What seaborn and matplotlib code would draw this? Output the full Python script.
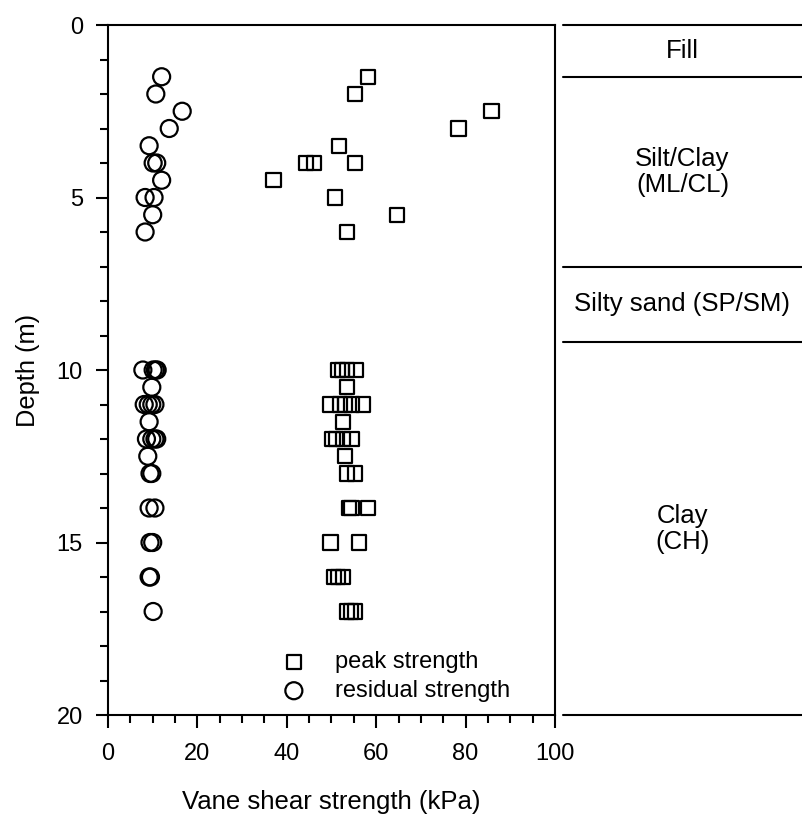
import matplotlib
matplotlib.use("Agg")
import matplotlib.pyplot as plt
import seaborn as sns
import pandas as pd
import numpy as np
from matplotlib.ticker import MultipleLocator

sns.set_style("ticks")
plt.rcParams['font.family'] = ['Liberation Sans', 'DejaVu Sans']
plt.rcParams.update({"text.color": "black", "axes.labelcolor": "black",
                     "xtick.color": "black", "ytick.color": "black",
                     "axes.edgecolor": "black"})

# Peak strength (kPa) vs depth (m)
peak_depth = [1.5, 2.0, 2.5, 3.0, 3.5, 4.0, 4.0, 4.0, 4.5, 5.0, 5.5, 6.0,
              10.0, 10.0, 10.0, 10.0, 10.5, 11.0, 11.0, 11.0, 11.0, 11.0, 11.5,
              12.0, 12.0, 12.0, 12.0, 12.5, 13.0, 13.0, 14.0, 14.0, 14.0,
              15.0, 15.0, 16.0, 16.0, 16.0, 17.0, 17.0, 17.0]
peak_val = [58.2, 55.3, 85.8, 78.4, 51.7, 44.3, 46.1, 55.3, 37.0, 50.8, 64.6, 53.5,
            51.5, 52.3, 53.4, 55.5, 53.4, 49.8, 51.9, 53.0, 54.5, 57.1, 52.5,
            50.2, 51.0, 52.5, 54.5, 53.0, 53.4, 55.3, 53.9, 54.5, 58.1,
            49.8, 56.2, 50.6, 51.5, 52.6, 53.4, 54.4, 55.3]

# Residual strength (kPa) vs depth (m)
res_depth = [1.5, 2.0, 2.5, 3.0, 3.5, 4.0, 4.0, 4.5, 5.0, 5.0, 5.5, 6.0,
             10.0, 10.0, 10.0, 10.0, 10.5, 11.0, 11.0, 11.0, 11.0, 11.5,
             12.0, 12.0, 12.0, 12.0, 12.5, 13.0, 13.0, 14.0, 14.0,
             15.0, 15.0, 16.0, 16.0, 17.0]
res_val = [12.0, 10.7, 16.6, 13.7, 9.2, 10.1, 10.9, 12.0, 8.3, 10.3, 10.0, 8.3,
           7.8, 10.1, 10.6, 11.0, 9.8, 8.1, 9.0, 9.8, 10.5, 9.2,
           8.6, 9.8, 10.5, 10.9, 8.9, 9.4, 9.8, 9.2, 10.5,
           9.4, 10.0, 9.2, 9.5, 10.1]

# Soil layers
layer_bounds = [0, 1.5, 7.0, 9.2, 20.0]
layer_names = ["Fill", "Silt/Clay\n(ML/CL)", "Silty sand (SP/SM)", "Clay\n(CH)"]

peak_df = pd.DataFrame({"depth": peak_depth, "strength": peak_val})
res_df = pd.DataFrame({"depth": res_depth, "strength": res_val})

W, H = 802, 817
fig = plt.figure(figsize=(W / 100, H / 100), dpi=100)
ax = fig.add_axes([108 / W, 1 - 715 / H, (555 - 108) / W, (715 - 25) / H])
ax2 = fig.add_axes([563 / W, 1 - 715 / H, (W - 563) / W, (715 - 25) / H])

sns.scatterplot(data=peak_df, x="strength", y="depth", ax=ax, marker="s", s=105,
                facecolor="none", edgecolor="black", linewidth=1.6,
                label="peak strength")
sns.scatterplot(data=res_df, x="strength", y="depth", ax=ax, marker="o", s=150,
                facecolor="none", edgecolor="black", linewidth=1.6,
                label="residual strength")

ax.set_xlim(0, 100)
ax.set_ylim(20, 0)
ax.xaxis.set_major_locator(MultipleLocator(20))
ax.xaxis.set_minor_locator(MultipleLocator(5))
ax.yaxis.set_major_locator(MultipleLocator(5))
ax.yaxis.set_minor_locator(MultipleLocator(1))
ax.tick_params(which="major", direction="out", length=9, width=1.5, labelsize=17)
ax.tick_params(axis="x", which="major", pad=11)
ax.tick_params(axis="y", which="major", pad=9)
ax.tick_params(which="minor", direction="out", length=5.5, width=1.5)
for sp in ax.spines.values():
    sp.set_linewidth(1.5)
    sp.set_color("black")
ax.set_xlabel("Vane shear strength (kPa)", fontsize=18.5, labelpad=18)
ax.set_ylabel("Depth (m)", fontsize=18.3, labelpad=12)

leg = ax.legend(loc="lower left", bbox_to_anchor=(0.326, -0.005), frameon=False,
                fontsize=17, handletextpad=0.75, labelspacing=0.3, borderpad=0.2)

ax2.set_xlim(0, 1)
ax2.set_ylim(20, 0)
ax2.axis("off")
for b in layer_bounds:
    ax2.axhline(b, color="black", linewidth=1.5, clip_on=False)
for i, name in enumerate(layer_names):
    ax2.text(0.5, (layer_bounds[i] + layer_bounds[i + 1]) / 2, name,
             ha="center", va="center", fontsize=18.5, linespacing=1.1)

fig.savefig("out.png", dpi=100)
